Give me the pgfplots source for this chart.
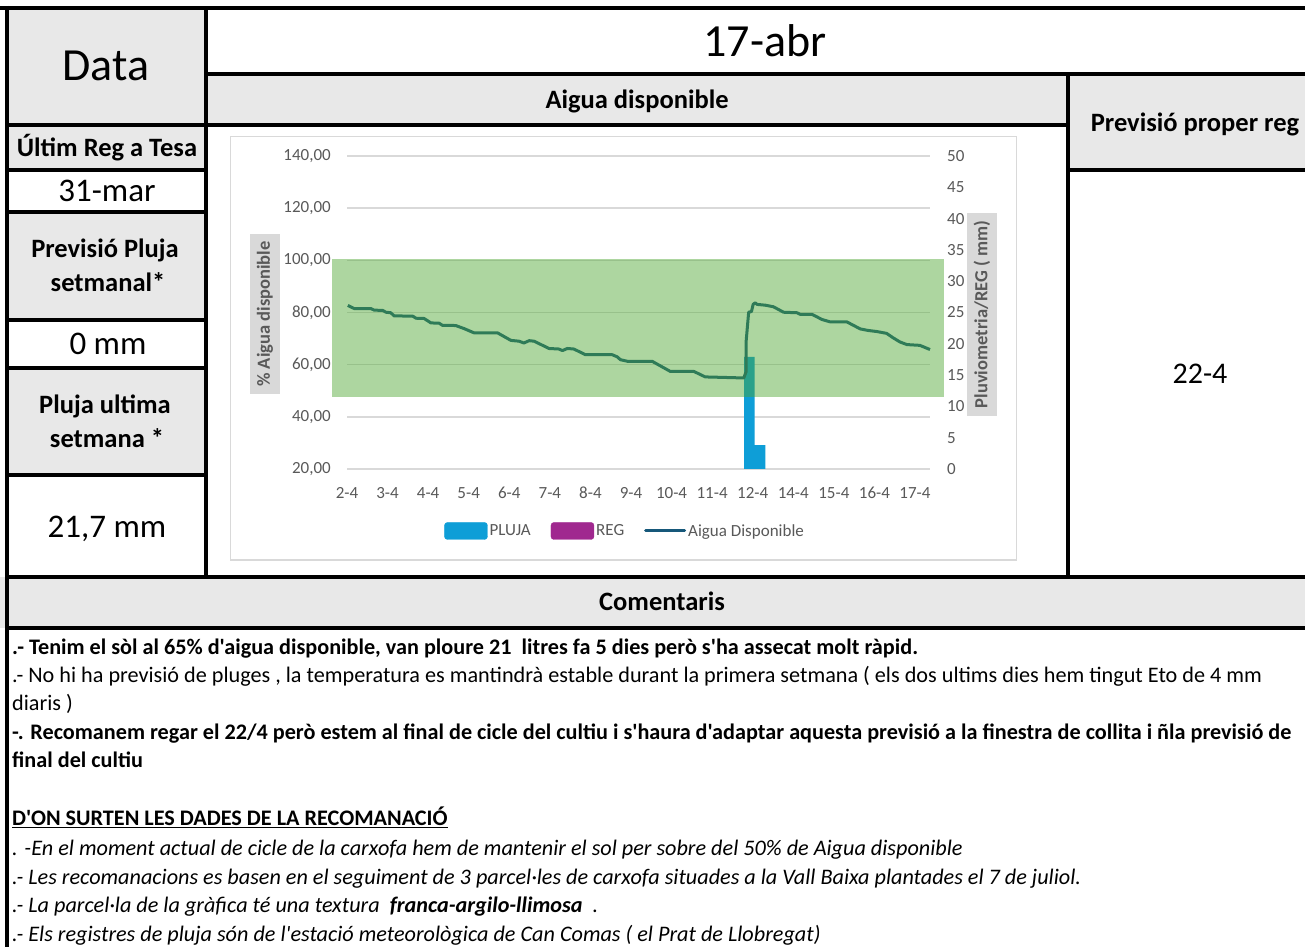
\documentclass[border=0pt]{standalone}
\usepackage{fontspec}
\usepackage{pgfplots}
\pgfplotsset{compat=1.18}
\newfontfamily\cf{Carlito}
\newcommand\fs[1]{\fontsize{#1}{#1}\selectfont}
\definecolor{cellgray}{RGB}{232,232,232}
\definecolor{gridgray}{RGB}{217,217,217}
\definecolor{framegray}{RGB}{217,217,217}
\definecolor{txtgray}{RGB}{89,89,89}
\definecolor{labelbg}{RGB}{217,217,217}
\definecolor{pluja}{RGB}{14,158,215}
\definecolor{reg}{RGB}{160,40,143}
\definecolor{aigua}{RGB}{22,88,122}
\definecolor{band}{RGB}{77,166,48}
\pgfplotsset{
  mybase/.style={
    at={(347pt,478pt)}, anchor=south west,
    width=583pt, height=313pt, scale only axis,
    xmin=0, xmax=14.37,
    axis line style={draw=none},
    tick style={draw=none},
    font=\cf\fs{17},
    tick label style={text=txtgray},
  }
}
\tikzset{tc/.style={inner sep=0pt, text depth=0pt, text height=#1}}
\begin{document}
\cf
\begin{tikzpicture}
\useasboundingbox (0,0) rectangle (1305pt,947pt);
\clip (0,0) rectangle (1305pt,947pt);
\begin{scope}[x=1pt,y=-1pt,shift={(0pt,947pt)}]
 \fill[white] (0,0) rectangle (1305,947);
 \fill[cellgray] (7,8) rectangle (206,125);
 \fill[cellgray] (206,74) rectangle (1068,125);
 \fill[cellgray] (1068,74) rectangle (1305,170);
 \fill[cellgray] (7,125) rectangle (206,170);
 \fill[cellgray] (7,212) rectangle (206,320);
 \fill[cellgray] (7,368) rectangle (206,475);
 \fill[cellgray] (0,577) rectangle (1305,628);
 \draw[framegray,line width=1.5pt] (230.5,136.5) rectangle (1016.5,560);
 \begin{scope}[line width=3.5pt]
  \draw (0,8) -- (1305,8);
  \draw (7,6) -- (7,947);
  \draw (206,8) -- (206,577);
  \draw (206,74) -- (1305,74);
  \draw (7,125) -- (1068,125);
  \draw (1068,74) -- (1068,577);
  \draw (1068,170) -- (1305,170);
  \draw (7,170) -- (206,170);
  \draw (7,212) -- (206,212);
  \draw (7,320) -- (206,320);
  \draw (7,368) -- (206,368);
  \draw (7,475) -- (206,475);
  \draw (5,577) -- (1305,577);
  \draw (5,628) -- (1305,628);
 \end{scope}
 \node[tc=29.6pt, font=\fs{46}] at (106,66) {Data};
 \node[tc=29.6pt, font=\fs{46}] at (765,42) {17-abr};
 \node[tc=17.1pt, font=\bfseries\fs{26.5}] at (637,100) {Aigua disponible};
 \node[tc=17.1pt, font=\bfseries\fs{26.5}] at (1195,123) {Previsió proper reg};
 \node[tc=19.3pt, font=\fs{30}] at (1200,374) {22-4};
 \node[tc=17.1pt, font=\bfseries\fs{26.5}] at (107,148) {Últim Reg a Tesa};
 \node[tc=21.3pt, font=\fs{33}] at (107,191) {31-mar};
 \node[tc=17.1pt, font=\bfseries\fs{26.5}] at (105,249) {Previsió Pluja};
 \node[tc=17.1pt, font=\bfseries\fs{26.5}] at (108,283) {setmanal*};
 \node[tc=21.3pt, font=\fs{33}] at (108,344) {0 mm};
 \node[tc=17.1pt, font=\bfseries\fs{26.5}] at (105,405) {Pluja ultima};
 \node[tc=17.1pt, font=\bfseries\fs{26.5}] at (107,439) {setmana *};
 \node[tc=21.3pt, font=\fs{33}] at (107,527) {21,7 mm};
 \node[tc=17.1pt, font=\bfseries\fs{26.5}] at (662,602) {Comentaris};
 \begin{scope}[every node/.style={anchor=base west, inner sep=0pt, font=\fs{22.2}}]
  \node at (12,655) {\bfseries .- Tenim el sòl al 65\% d'aigua disponible, van ploure 21\ \ litres fa 5 dies però s'ha assecat molt ràpid.};
  \node at (12,683) {.- No hi ha previsió de pluges , la temperatura es mantindrà estable durant la primera setmana ( els dos ultims dies hem tingut Eto de 4 mm};
  \node at (12,711) {diaris )};
  \node at (12,740) {\bfseries -. Recomanem regar el 22/4 però estem al final de cicle del cultiu i s'haura d'adaptar aquesta previsió a la finestra de collita i ñla previsió de};
  \node at (12,768) {\bfseries final del cultiu};
  \node at (12,826) {\bfseries \underline{D'ON SURTEN LES DADES DE LA RECOMANACIÓ}};
  \node at (12,855) {\itshape . -En el moment actual de cicle de la carxofa hem de mantenir el sol per sobre del 50\% de Aigua disponible};
  \node at (12,884) {\itshape .- Les recomanacions es basen en el seguiment de 3 parcel·les de carxofa situades a la Vall Baixa plantades el 7 de juliol.};
  \node at (12,912) {\itshape .- La parcel·la de la gràfica té una textura\ \ \textbf{franca-argilo-llimosa}\ \ .};
  \node at (12,941) {\itshape .- Els registres de pluja són de l'estació meteorològica de Can Comas ( el Prat de Llobregat)};
 \end{scope}
\end{scope}

% axis 1: left scale, grid and labels
\begin{axis}[mybase, ymin=20, ymax=140, ytick={20,40,...,140},
  ymajorgrids, grid style={gridgray, line width=1.5pt},
  xtick={0,...,14},
  xticklabels={2-4,3-4,4-4,5-4,6-4,7-4,8-4,9-4,10-4,11-4,12-4,14-4,15-4,16-4,17-4},
  x tick label style={anchor=north, inner sep=0pt, yshift=-18pt},
  y tick label style={anchor=east, inner sep=0pt, xshift=-16pt},
  yticklabel={\pgfmathprintnumber[fixed,fixed zerofill,precision=2,use comma,assume math mode=true]{\tick}},
  ylabel={\% Aigua disponible},
  every axis y label/.style={at={(rel axis cs:-0.1407,0.495)}, rotate=90, anchor=center, fill=labelbg, minimum width=160pt, minimum height=30pt, inner sep=0pt, font=\cf\bfseries\fs{18.5}, text=txtgray},
]
\end{axis}

% axis 2: right scale, rain bars
\begin{axis}[mybase, ymin=0, ymax=50, ytick={0,5,...,50}, xtick=\empty,
  yticklabel pos=right,
  y tick label style={anchor=west, inner sep=0pt, xshift=17pt},
  yticklabel={\pgfmathprintnumber[assume math mode=true]{\tick}},
  ylabel={Pluviometria/REG ( mm)},
  every axis y label/.style={at={(rel axis cs:1.0892,0.4936)}, rotate=90, anchor=center, fill=labelbg, minimum width=203pt, minimum height=30pt, inner sep=0pt, font=\cf\bfseries\fs{18.5}, text=txtgray},
]
\addplot[ybar, bar width=0.26, fill=pluja, draw=none] coordinates {(9.92,17.9) (10.18,3.8)};
\end{axis}

% axis 3: water line, band, legend
\begin{axis}[mybase, ymin=20, ymax=140, hide axis, clip=false,
  legend style={at={(0.477,-0.198)}, anchor=center, draw=none, fill=none, legend columns=-1, font=\cf\fs{17}, text=txtgray,
    /tikz/every even column/.append style={column sep=18pt}},
  legend cell align=left,
]
\addlegendimage{legend image code/.code={\fill[pluja,rounded corners=3pt] (0pt,-8.5pt) rectangle (43pt,8.5pt);}}
\addlegendentry{PLUJA}
\addlegendimage{legend image code/.code={\fill[reg,rounded corners=3pt] (0pt,-8.5pt) rectangle (43pt,8.5pt);}}
\addlegendentry{REG}
\addplot[aigua, line width=3pt, line join=round,
  legend image code/.code={\draw[aigua,line width=3pt,line cap=round] (0pt,0pt) -- (39pt,0pt);}]
  coordinates {(0.02,82.7) (0.18,81.5) (0.59,81.5) (0.67,80.9) (0.88,80.8) (0.96,80.1) (1.08,79.9) (1.16,78.7) (1.62,78.6) (1.70,77.8) (1.90,77.7) (2.07,76.0) (2.27,75.9) (2.35,75.1) (2.68,75.0) (2.89,73.8) (3.13,72.2) (3.71,72.2) (4.04,69.3) (4.24,69.0) (4.36,68.3) (4.49,69.2) (4.61,69.0) (4.98,66.2) (5.22,66.0) (5.31,65.4) (5.43,66.2) (5.59,66.0) (5.88,63.8) (6.54,63.8) (6.66,63.0) (6.74,61.9) (6.91,61.3) (7.52,61.3) (7.97,57.4) (8.55,57.4) (8.83,55.3) (9.78,54.9) (9.84,57.4) (9.84,69.3) (9.90,80.1) (9.97,80.4) (10.01,83.1) (10.06,83.7) (10.11,83.1) (10.31,82.8) (10.51,82.2) (10.76,80.1) (11.09,79.9) (11.17,79.3) (11.46,79.3) (11.71,77.3) (11.91,76.4) (12.32,76.4) (12.65,73.7) (12.85,73.1) (13.06,72.7) (13.30,72.0) (13.46,70.3) (13.63,68.7) (13.80,67.7) (14.12,67.4) (14.37,65.8)};
\addlegendentry{Aigua Disponible}
\addplot[draw=none, fill=band, fill opacity=0.46, forget plot] coordinates {(-0.37,47.6) (14.71,47.6) (14.71,100.65) (-0.37,100.65)};
\end{axis}
\end{tikzpicture}
\end{document}
